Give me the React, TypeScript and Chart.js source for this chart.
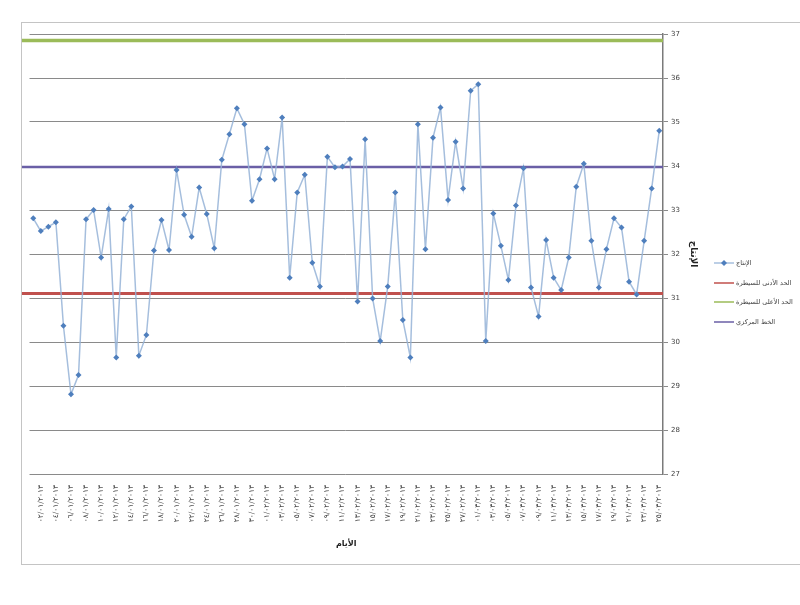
import React, { useEffect, useRef } from 'react';
import { Chart, registerables } from 'chart.js';

Chart.register(...registerables);

// Days (x categories)
const dates: string[] = [
  '01/01/2013', '02/01/2013', '03/01/2013', '04/01/2013', '05/01/2013', '06/01/2013', '07/01/2013', '08/01/2013',
  '09/01/2013', '10/01/2013', '11/01/2013', '12/01/2013', '13/01/2013', '14/01/2013', '15/01/2013', '16/01/2013',
  '17/01/2013', '18/01/2013', '19/01/2013', '20/01/2013', '21/01/2013', '22/01/2013', '23/01/2013', '24/01/2013',
  '25/01/2013', '26/01/2013', '27/01/2013', '28/01/2013', '29/01/2013', '30/01/2013', '31/01/2013',
  '01/02/2013', '02/02/2013', '03/02/2013', '04/02/2013', '05/02/2013', '06/02/2013', '07/02/2013', '08/02/2013',
  '09/02/2013', '10/02/2013', '11/02/2013', '12/02/2013', '13/02/2013', '14/02/2013', '15/02/2013', '16/02/2013',
  '17/02/2013', '18/02/2013', '19/02/2013', '20/02/2013', '21/02/2013', '22/02/2013', '23/02/2013', '24/02/2013',
  '25/02/2013', '26/02/2013', '27/02/2013', '28/02/2013',
  '01/03/2013', '02/03/2013', '03/03/2013', '04/03/2013', '05/03/2013', '06/03/2013', '07/03/2013', '08/03/2013',
  '09/03/2013', '10/03/2013', '11/03/2013', '12/03/2013', '13/03/2013', '14/03/2013', '15/03/2013', '16/03/2013',
  '17/03/2013', '18/03/2013', '19/03/2013', '20/03/2013', '21/03/2013', '22/03/2013', '23/03/2013', '24/03/2013',
  '25/03/2013',
];

// Production values (الإنتاج)
const production: number[] = [
  32.81, 32.52, 32.62, 32.72, 30.37, 28.81, 29.25, 32.79, 33.0, 31.92,
  33.02, 29.65, 32.79, 33.08, 29.69, 30.16, 32.08, 32.77, 32.09, 33.91,
  32.89, 32.39, 33.51, 32.91, 32.13, 34.14, 34.72, 35.31, 34.95, 33.21,
  33.7, 34.4, 33.7, 35.1, 31.46, 33.4, 33.8, 31.8, 31.26, 34.21,
  33.97, 33.99, 34.16, 30.92, 34.61, 30.99, 30.02, 31.26, 33.4, 30.5,
  29.65, 34.95, 32.11, 34.64, 35.33, 33.23, 34.55, 33.49, 35.71, 35.86,
  30.02, 32.92, 32.19, 31.41, 33.1, 33.95, 31.24, 30.58, 32.32, 31.46,
  31.18, 31.92, 33.53, 34.05, 32.3, 31.24, 32.11, 32.81, 32.6, 31.37,
  31.08, 32.3, 33.49, 34.8,
];

const lowerLimit = 31.1;
const upperLimit = 36.85;
const centerLine = 33.975;

const yMin = 27;
const yMax = 37;
const yStep = 1;

const seriesNames = ['الإنتاج', 'الحد الأدنى للسيطرة', 'الحد الأعلى للسيطرة', 'الخط المركزي'];
const yTitle = 'الإنتاج';
const xTitle = 'الأيام';

const toArabicDigits = (s: string) => s.replace(/[0-9]/g, (d) => '٠١٢٣٤٥٦٧٨٩'[+d]);

const FONT = "'DejaVu Sans', sans-serif";

const framePlugin = {
  id: 'frame',
  beforeDraw(chart: any) {
    const ctx = chart.ctx;
    ctx.save();
    ctx.fillStyle = '#ffffff';
    ctx.fillRect(0, 0, chart.width, chart.height);
    ctx.strokeStyle = '#c4c4c4';
    ctx.lineWidth = 1;
    ctx.strokeRect(21.5, 22.5, 800, 542);
    ctx.restore();
  },
};

const legendPlugin = {
  id: 'sideLegend',
  afterDraw(chart: any) {
    const ctx = chart.ctx;
    const rows = [263, 283, 302, 322];
    ctx.save();
    chart.data.datasets.forEach((ds: any, i: number) => {
      const y = rows[i];
      ctx.strokeStyle = ds.borderColor;
      ctx.lineWidth = 1.5;
      ctx.beginPath();
      ctx.moveTo(714, y);
      ctx.lineTo(734, y);
      ctx.stroke();
      if (i === 0) {
        ctx.fillStyle = ds.pointBackgroundColor;
        ctx.beginPath();
        ctx.moveTo(724, y - 3);
        ctx.lineTo(727, y);
        ctx.lineTo(724, y + 3);
        ctx.lineTo(721, y);
        ctx.closePath();
        ctx.fill();
      }
      ctx.fillStyle = '#404040';
      ctx.font = `6.5px ${FONT}`;
      ctx.textAlign = 'left';
      ctx.textBaseline = 'middle';
      ctx.fillText(ds.label, 736, y);
    });
    ctx.restore();
  },
};

export default function App() {
  const canvasRef = useRef<HTMLCanvasElement | null>(null);

  useEffect(() => {
    if (!canvasRef.current) return;
    const n = dates.length;
    const chart = new Chart(canvasRef.current, {
      type: 'line',
      data: {
        labels: dates,
        datasets: [
          {
            label: seriesNames[0],
            data: production,
            xAxisID: 'x',
            borderColor: 'rgba(149,179,215,0.85)',
            borderWidth: 1.5,
            pointStyle: 'rectRot',
            pointRadius: 3,
            pointBackgroundColor: '#4f7fbd',
            pointBorderColor: '#4f7fbd',
            pointBorderWidth: 0,
            tension: 0,
            order: 0,
          },
          {
            label: seriesNames[1],
            data: [{ x: -0.5, y: lowerLimit }, { x: n + 0.5, y: lowerLimit }],
            xAxisID: 'x2',
            borderColor: '#c0504d',
            borderWidth: 3,
            pointRadius: 0,
            clip: false,
            order: 3,
          },
          {
            label: seriesNames[2],
            data: [{ x: -0.5, y: upperLimit }, { x: n + 0.5, y: upperLimit }],
            xAxisID: 'x2',
            borderColor: '#9bbb59',
            borderWidth: 3.5,
            pointRadius: 0,
            clip: false,
            order: 2,
          },
          {
            label: seriesNames[3],
            data: [{ x: -0.5, y: centerLine }, { x: n + 0.5, y: centerLine }],
            xAxisID: 'x2',
            borderColor: '#6a5fa6',
            borderWidth: 2.5,
            pointRadius: 0,
            clip: false,
            order: 1,
          },
        ] as any,
      },
      options: {
        animation: false,
        responsive: false,
        events: [],
        layout: { padding: { left: 29.5, top: 34, right: 101, bottom: 56 } },
        plugins: {
          legend: { display: false },
          tooltip: { enabled: false },
        },
        scales: {
          x: {
            type: 'category',
            offset: true,
            grid: { display: false },
            border: { display: false },
            ticks: {
              autoSkip: false,
              minRotation: 90,
              maxRotation: 90,
              padding: 3,
              color: '#404040',
              font: { size: 7.5, family: FONT },
              callback: (_v: any, i: number) => (i % 2 === 1 ? toArabicDigits(dates[i]) : ''),
            },
            title: {
              display: true,
              text: xTitle,
              color: '#222',
              font: { size: 8, weight: 'bold', family: FONT },
              padding: { top: 0, bottom: 0 },
            },
            afterFit: (scale: any) => {
              scale.height = 75;
            },
          },
          x2: {
            type: 'linear',
            display: false,
            min: 0.5,
            max: n + 0.5,
          },
          y: {
            position: 'right',
            min: yMin,
            max: yMax,
            ticks: {
              stepSize: yStep,
              padding: 3,
              color: '#404040',
              font: { size: 7, family: FONT },
            },
            grid: {
              color: '#8a8a8a',
              lineWidth: 1,
              tickLength: 5,
            },
            border: { color: '#7a7a7a', width: 1.5 },
            title: {
              display: true,
              text: yTitle,
              color: '#222',
              font: { size: 9, weight: 'bold', family: FONT },
              padding: { top: 0, bottom: 0 },
            },
            afterFit: (scale: any) => {
              scale.width = 36;
            },
          },
        } as any,
      },
      plugins: [framePlugin, legendPlugin],
    });
    return () => chart.destroy();
  }, []);

  return (
    <div style={{ position: 'fixed', left: 0, top: 0, width: 800, height: 605, background: '#fff' }}>
      <canvas ref={canvasRef} width={800} height={605} style={{ width: 800, height: 605, display: 'block' }} />
    </div>
  );
}
